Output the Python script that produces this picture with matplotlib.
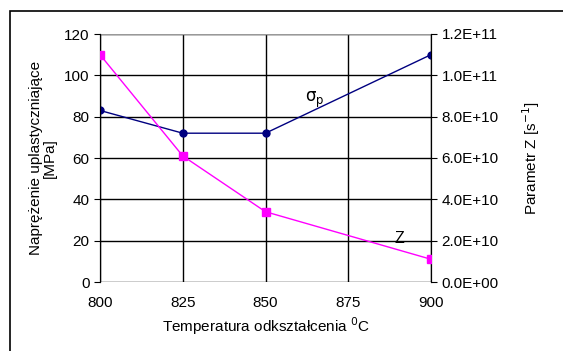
import matplotlib.pyplot as plt
from matplotlib.patches import Rectangle

plt.rcParams['font.family'] = ['Liberation Sans', 'DejaVu Sans']

# dane
temperatura = [800, 825, 850, 900]
naprezenie = [83, 72, 72, 110]
parametr_z = [1.1e11, 6.1e10, 3.4e10, 1.1e10]

fs = 11

fig = plt.figure(figsize=(5.63, 3.51), dpi=100)
ax = fig.add_axes([100 / 563, 69 / 351, 331 / 563, 248 / 351])

# ramka wokół całego wykresu
fig.patches.append(Rectangle((10 / 563, -0.05), 1.0, 1 - 11 / 351 + 0.05,
                             transform=fig.transFigure, fill=False,
                             edgecolor="black", linewidth=1.2))

ax.plot(temperatura, naprezenie, color="#000080", marker="o", markersize=5,
        linewidth=1, zorder=5)
ax.set_xlim(800, 900)
ax.set_ylim(0, 120)
ax.set_xticks([800, 825, 850, 875, 900])
ax.set_yticks(range(0, 121, 20))
ax.grid(True, color="black", linewidth=1)
ax.set_axisbelow(True)
for s in ["top", "bottom"]:
    ax.spines[s].set_visible(False)
ax.axhline(120, color="#999999", linewidth=1)
ax.tick_params(labelsize=fs, length=4, direction="out")
ax.tick_params(axis="x", length=0, pad=10)

ax.set_ylabel("Naprężenie uplastyczniające\n[MPa]", fontsize=fs, labelpad=5,
              linespacing=1.0)
ax.set_xlabel("Temperatura odkształcenia $^0$C", fontsize=fs, labelpad=4)

ax2 = ax.twinx()
ax2.plot(temperatura, parametr_z, color="#FF00FF", marker="s", markersize=6,
         linewidth=1, zorder=5)
ax2.set_ylim(0, 1.2e11)
ax2.set_yticks([i * 2e10 for i in range(7)])
ax2.set_yticklabels(["%.1E" % (i * 2e10) for i in range(7)])
ax2.tick_params(labelsize=fs, length=4, direction="out")
for s in ["top", "bottom"]:
    ax2.spines[s].set_visible(False)
ax2.set_ylabel("Parametr Z [s$^{-1}$]", fontsize=fs, labelpad=16)

ax.text(865, 88, r"$\mathrm{\sigma_p}$", fontsize=12, ha="center", va="center")
ax.text(890.5, 21, "Z", fontsize=11.5, ha="center", va="center")

plt.savefig("out.png", dpi=100)
